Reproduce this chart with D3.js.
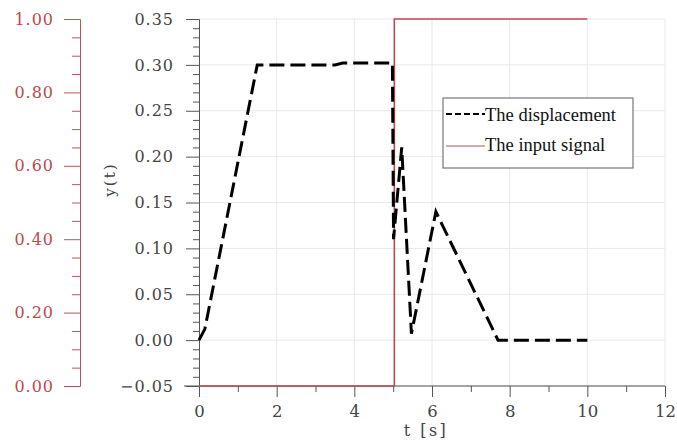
<!DOCTYPE html>
<html><head><meta charset="utf-8">
<script src="https://cdn.jsdelivr.net/npm/d3@7"></script>
<style>body{margin:0;background:#fff}svg{display:block}</style>
</head><body>
<script>
// ---- data ----
const dispT = [0, 0.15, 1.5, 2.5, 3.5, 3.7, 4.5, 4.98, 5.01, 5.22, 5.47, 6.1, 7.7, 8.5, 10];
const dispY = [0, 0.012, 0.300, 0.300, 0.300, 0.302, 0.302, 0.302, 0.11, 0.21, 0.007, 0.14, 0.0, 0.0, 0.0];
const inT = [0, 5.03, 5.03, 10];
const inY = [0, 0, 1, 1];
const xTicks = [0, 2, 4, 6, 8, 10, 12];
const yTicks = [-0.05, 0, 0.05, 0.10, 0.15, 0.20, 0.25, 0.30, 0.35];
const y2Ticks = [0, 0.2, 0.4, 0.6, 0.8, 1.0];
const legendLabels = ["The displacement", "The input signal"];

const W = 677, H = 441;
const svg = d3.select("body").append("svg").attr("width", W).attr("height", H);
const x = d3.scaleLinear().domain([0, 12]).range([199, 665]);
const y = d3.scaleLinear().domain([-0.05, 0.35]).range([386, 19]);
const y2 = d3.scaleLinear().domain([0, 1]).range([386, 19]);
const red = "#c0474c";
const font = "'DejaVu Serif', serif";

// grid
svg.append("g").selectAll("line").data(yTicks).join("line")
  .attr("x1", x(0)).attr("x2", x(12)).attr("y1", d => y(d)).attr("y2", d => y(d))
  .attr("stroke", "#e8e8e8").attr("stroke-width", 1);
svg.append("g").selectAll("line").data(xTicks.slice(1)).join("line")
  .attr("x1", d => x(d)).attr("x2", d => x(d)).attr("y1", y(0.35)).attr("y2", y(-0.05))
  .attr("stroke", "#e8e8e8").attr("stroke-width", 1);

// main y axis
const gy = svg.append("g").attr("transform", `translate(${x(0)},0)`)
  .call(d3.axisLeft(y).tickValues(yTicks).tickSize(13).tickPadding(12)
    .tickFormat(d => d3.format(".2f")(d).replace("-", "\u2212")));
gy.select(".domain").attr("stroke", "#555");
gy.selectAll(".tick line").attr("stroke", "#555");
gy.selectAll("text").attr("font-family", font).attr("font-size", 16).attr("fill", "#444").attr("letter-spacing", "1px");
svg.append("g").attr("transform", `translate(${x(0)},0)`)
  .call(d3.axisLeft(y).tickValues(d3.range(-0.04, 0.35, 0.01).filter(v => Math.abs(Math.round(v*100) % 5) !== 0)).tickSize(6).tickFormat(""))
  .call(g => g.select(".domain").remove())
  .selectAll("line").attr("stroke", "#555");

// x axis
const gx = svg.append("g").attr("transform", `translate(0,${y(-0.05)})`)
  .call(d3.axisBottom(x).tickValues(xTicks).tickSize(11).tickPadding(8));
gx.select(".domain").attr("stroke", "#555").attr("d", `M${x(0)-15},0H${x(12)}`);
gx.selectAll(".tick line").attr("stroke", "#555");
gx.selectAll("text").attr("font-family", font).attr("font-size", 16.5).attr("fill", "#444");
svg.append("g").attr("transform", `translate(0,${y(-0.05)})`)
  .call(d3.axisBottom(x).tickValues([1, 3, 5, 7, 9, 11]).tickSize(6).tickFormat(""))
  .call(g => g.select(".domain").remove())
  .selectAll("line").attr("stroke", "#555");

// left red axis
const gy2 = svg.append("g").attr("transform", "translate(80,0)")
  .call(d3.axisLeft(y2).tickValues(y2Ticks).tickSize(16).tickPadding(10).tickFormat(d3.format(".2f")));
gy2.select(".domain").attr("stroke", "#b05a5e");
gy2.selectAll(".tick line").attr("stroke", "#b05a5e");
gy2.selectAll("text").attr("font-family", font).attr("font-size", 16).attr("fill", red).attr("letter-spacing", "1px");
svg.append("g").attr("transform", "translate(80,0)")
  .call(d3.axisLeft(y2).tickValues(d3.range(0.05, 1, 0.05).filter((v, i) => i % 4 !== 3)).tickSize(8).tickFormat(""))
  .call(g => g.select(".domain").remove())
  .selectAll("line").attr("stroke", "#b05a5e");

// axis titles
svg.append("text").attr("transform", `translate(115,${y(0.175)}) rotate(-90)`)
  .attr("text-anchor", "middle").attr("font-family", font).attr("font-size", 15).attr("fill", "#444")
  .attr("letter-spacing", "2px").text("y(t)");
svg.append("text").attr("x", 426).attr("y", 436).attr("text-anchor", "middle")
  .attr("font-family", font).attr("font-size", 16).attr("fill", "#444").attr("letter-spacing", "2.5px").text("t [s]");

// lines
const inData = inT.map((t, i) => [t, inY[i]]);
svg.append("path").datum(inData)
  .attr("d", d3.line().x(d => x(d[0])).y(d => y2(d[1])))
  .attr("fill", "none").attr("stroke", red).attr("stroke-width", 1.6);
const dData = dispT.map((t, i) => [t, dispY[i]]);
svg.append("path").datum(dData)
  .attr("d", d3.line().x(d => x(d[0])).y(d => y(d[1])))
  .attr("fill", "none").attr("stroke", "#000").attr("stroke-width", 3)
  .attr("stroke-dasharray", "15,6");

// legend
const lg = svg.append("g");
lg.append("rect").attr("x", 443).attr("y", 98).attr("width", 190).attr("height", 70)
  .attr("fill", "#fff").attr("stroke", "#777").attr("stroke-width", 1.2);
lg.append("line").attr("x1", 446).attr("x2", 485).attr("y1", 114).attr("y2", 114)
  .attr("stroke", "#000").attr("stroke-width", 2).attr("stroke-dasharray", "6,3");
lg.append("line").attr("x1", 446).attr("x2", 485).attr("y1", 146).attr("y2", 146)
  .attr("stroke", "#d08a8e").attr("stroke-width", 1.5);
lg.selectAll("text").data(legendLabels).join("text")
  .attr("x", 485).attr("y", (d, i) => 121 + i * 30)
  .attr("font-family", "'Liberation Serif', serif").attr("font-size", 18.5).attr("fill", "#111")
  .text(d => d);
</script>
</body></html>
